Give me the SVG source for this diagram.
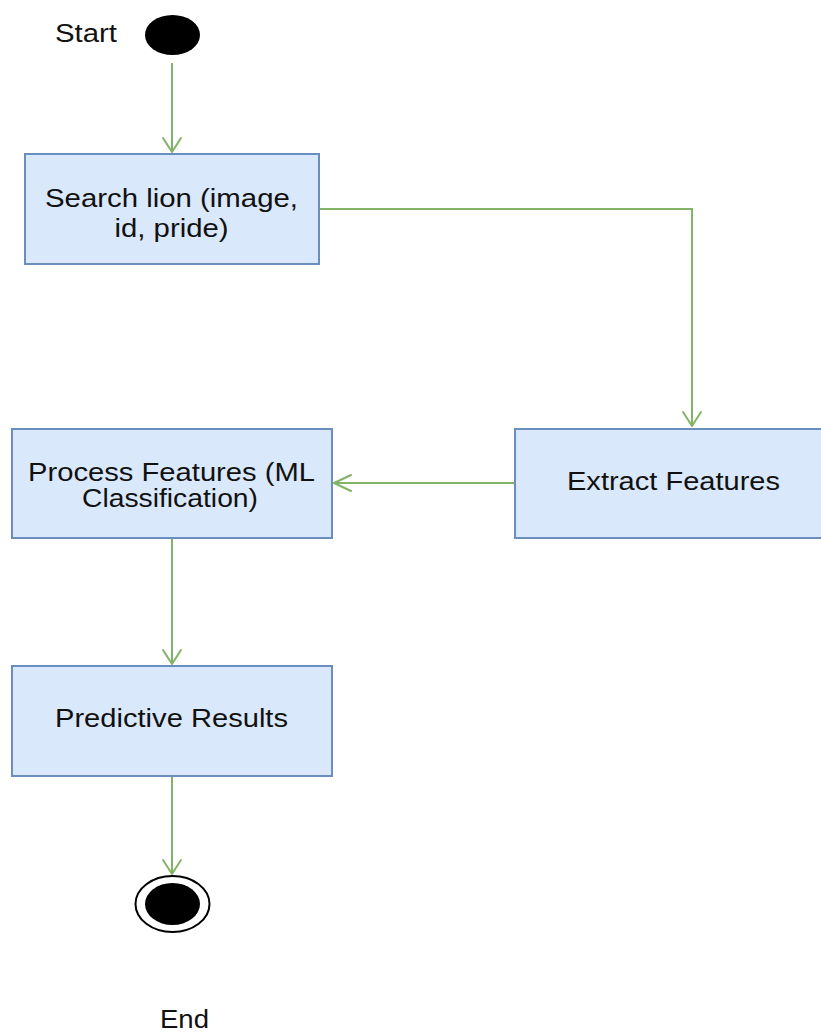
<svg xmlns="http://www.w3.org/2000/svg" width="821" height="1032" viewBox="0 0 821 1032">
<style>
.box{fill:#dae8fc;stroke:#6c8ebf;stroke-width:2}
.lbl{font-family:"Liberation Sans",Arial,sans-serif;font-size:25px;fill:#111;text-anchor:middle}
.edge{fill:none;stroke:#82b366;stroke-width:2}
.head{fill:none;stroke:#82b366;stroke-width:2;stroke-linecap:round;stroke-linejoin:round}
</style>
<rect width="821" height="1032" fill="#fff"/>
<g id="connectors">
<path class="edge" d="M172 63 V152"/>
<polyline class="head" points="163,138 172,152 181,138"/>
<path class="edge" d="M319 209 H692 V426"/>
<polyline class="head" points="683,412 692,426 701,412"/>
<path class="edge" d="M514 483 H334"/>
<polyline class="head" points="351,475 334,483 351,491"/>
<path class="edge" d="M172 538 V664"/>
<polyline class="head" points="163,650 172,664 181,650"/>
<path class="edge" d="M172 776 V874"/>
<polyline class="head" points="163,860 172,874 181,860"/>
</g>
<g id="start">
<ellipse cx="172.5" cy="35" rx="27.5" ry="20" fill="#000"/>
<text class="lbl" x="86" y="42" textLength="62" lengthAdjust="spacingAndGlyphs">Start</text>
</g>
<g id="search">
<rect class="box" x="25" y="154" width="294" height="110"/>
<text class="lbl" x="171.5" y="207" textLength="253" lengthAdjust="spacingAndGlyphs">Search lion (image,</text>
<text class="lbl" x="171.5" y="237" textLength="114" lengthAdjust="spacingAndGlyphs">id, pride)</text>
</g>
<g id="extract">
<rect class="box" x="515" y="429" width="310" height="109"/>
<text class="lbl" x="673.5" y="490" textLength="213" lengthAdjust="spacingAndGlyphs">Extract Features</text>
</g>
<g id="process">
<rect class="box" x="12" y="429" width="320" height="109"/>
<text class="lbl" x="171.5" y="481" textLength="287" lengthAdjust="spacingAndGlyphs">Process Features (ML</text>
<text class="lbl" x="170" y="507" textLength="176" lengthAdjust="spacingAndGlyphs">Classification)</text>
</g>
<g id="predictive">
<rect class="box" x="12" y="666" width="320" height="110"/>
<text class="lbl" x="171.5" y="727" textLength="233" lengthAdjust="spacingAndGlyphs">Predictive Results</text>
</g>
<g id="end">
<ellipse cx="172.5" cy="904" rx="37" ry="28" fill="#fff" stroke="#000" stroke-width="2"/>
<ellipse cx="172.5" cy="904" rx="27.5" ry="21" fill="#000"/>
<text class="lbl" x="184.5" y="1028" textLength="49" lengthAdjust="spacingAndGlyphs">End</text>
</g>
</svg>
